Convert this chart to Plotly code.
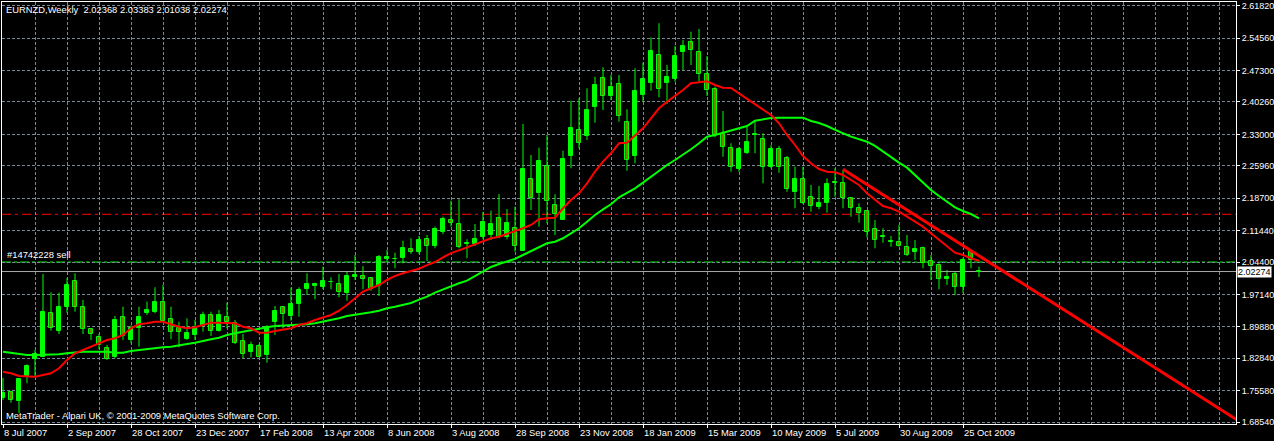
import plotly.graph_objects as go

# ---------------- data ----------------
date_labels = ["8 Jul 2007", "2 Sep 2007", "28 Oct 2007", "23 Dec 2007", "17 Feb 2008",
               "13 Apr 2008", "8 Jun 2008", "3 Aug 2008", "28 Sep 2008", "23 Nov 2008",
               "18 Jan 2009", "15 Mar 2009", "10 May 2009", "5 Jul 2009", "30 Aug 2009",
               "25 Oct 2009"]
label_step = 8      # one date label every 8 weekly bars
grid_step = 4       # vertical grid every 4 bars

price_ticks = [2.6182, 2.5456, 2.4730, 2.4026, 2.3300, 2.2596, 2.1870, 2.1144,
               2.0440, 1.9714, 1.8988, 1.8284, 1.7558, 1.6854]

opens = [1.7400, 1.7522, 1.7328, 1.7888, 1.8262, 1.8320, 1.9292, 1.8903, 1.9440, 2.0022,
         1.9440, 1.8934, 1.8768, 1.8508, 1.8320, 1.9216, 1.8694, 1.8956, 1.9306, 1.9328,
         1.9538, 1.9164, 1.8956, 1.8716, 1.8806, 1.9008, 1.9254, 1.8903, 1.9202, 1.9068,
         1.8678, 1.8432, 1.8560, 1.8358, 1.9104, 1.9426, 1.9238, 1.9500, 1.9836, 1.9910,
         1.9888, 1.9993, 1.9942, 1.9754, 2.0112, 2.0128, 2.0076, 1.9904, 2.0508, 2.0497,
         2.0538, 2.0726, 2.0672, 2.0950, 2.0800, 2.1120, 2.1375, 2.1292, 2.0838, 2.0838,
         2.1008, 2.1046, 2.1420, 2.0994, 2.1196, 2.0694, 2.2300, 2.1994, 2.2592, 2.1718,
         2.1382, 2.2822, 2.3398, 2.3270, 2.3906, 2.4556, 2.4166, 2.4422, 2.3570, 2.2822,
         2.4182, 2.4458, 2.5078, 2.4458, 2.4540, 2.5138, 2.5362, 2.5138, 2.4652, 2.4316,
         2.3302, 2.2988, 2.2518, 2.2890, 2.3286, 2.3190, 2.2576, 2.2966, 2.2764, 2.2016,
         2.2294, 2.1904, 2.1680, 2.1770, 2.2204, 2.2204, 2.1868, 2.1644, 2.1590, 2.1174,
         2.0994, 2.0883, 2.0896, 2.0770, 2.0672, 2.0748, 2.0470, 2.0374, 2.0054, 2.0172,
         1.9888, 2.0658, 2.02368]
highs = [1.7843, 1.7552, 1.7830, 1.8150, 1.8470, 2.0172, 1.9763, 1.9754, 2.0077, 2.0188,
         1.9590, 1.8940, 1.8828, 1.8582, 1.9232, 1.9440, 1.9023, 1.9440, 1.9552, 1.9874,
         1.9926, 1.9440, 1.9104, 1.9180, 1.9142, 1.9328, 1.9328, 1.9366, 1.9530, 1.9142,
         1.8828, 1.8656, 1.8604, 1.9030, 1.9456, 1.9456, 1.9866, 1.9874, 2.0188, 1.9977,
         2.0336, 2.0098, 2.0172, 2.0224, 2.0598, 2.0352, 2.0098, 2.0598, 2.0710, 2.0650,
         2.0918, 2.0972, 2.1024, 2.1046, 2.1232, 2.1456, 2.1814, 2.1846, 2.0950, 2.1292,
         2.1568, 2.1590, 2.1964, 2.1628, 2.1680, 2.3532, 2.2838, 2.3002, 2.3286, 2.1958,
         2.2934, 2.4054, 2.4108, 2.4332, 2.4592, 2.4802, 2.4630, 2.4630, 2.3862, 2.4780,
         2.4906, 2.5474, 2.5788, 2.4854, 2.5280, 2.5414, 2.5600, 2.5660, 2.5056, 2.4368,
         2.3824, 2.3100, 2.3024, 2.3472, 2.3584, 2.3324, 2.3056, 2.3040, 2.2816, 2.2576,
         2.2576, 2.2166, 2.2144, 2.2316, 2.2540, 2.2502, 2.1890, 2.1756, 2.1606, 2.1382,
         2.1197, 2.1024, 2.1270, 2.1046, 2.0934, 2.0784, 2.0598, 2.0412, 2.0262, 2.0224,
         2.0531, 2.0710, 2.03383]
lows = [1.7350, 1.7290, 1.7059, 1.7724, 1.7872, 1.8313, 1.8903, 1.8828, 1.9306, 1.9328,
        1.8828, 1.8694, 1.8486, 1.8246, 1.8284, 1.8694, 1.8620, 1.8544, 1.9254, 1.9292,
        1.9104, 1.8710, 1.8530, 1.8694, 1.8694, 1.8880, 1.8784, 1.8880, 1.8956, 1.8604,
        1.8284, 1.8306, 1.8306, 1.8186, 1.8806, 1.8956, 1.9126, 1.9216, 1.9702, 1.9606,
        1.9830, 1.9830, 1.9650, 1.9574, 2.0038, 1.9830, 1.9798, 1.9680, 2.0448, 2.0300,
        2.0412, 2.0620, 2.0620, 2.0464, 2.0748, 2.1068, 2.1232, 2.0748, 2.0524, 2.0800,
        2.0950, 2.0934, 2.0972, 2.0950, 2.0672, 2.0694, 2.1606, 2.1232, 2.1308, 2.1046,
        2.1382, 2.2540, 2.2988, 2.3174, 2.3562, 2.3846, 2.4070, 2.3584, 2.2486, 2.2652,
        2.4032, 2.4278, 2.4130, 2.3980, 2.4480, 2.4742, 2.4854, 2.4480, 2.4160, 2.3234,
        2.2800, 2.2464, 2.2464, 2.2860, 2.2876, 2.2204, 2.2540, 2.2442, 2.2016, 2.1644,
        2.1740, 2.1568, 2.1622, 2.1546, 2.1904, 2.1644, 2.1456, 2.1322, 2.0994, 2.0748,
        2.0874, 2.0784, 2.0784, 2.0576, 2.0486, 2.0300, 2.0038, 1.9830, 1.9926, 1.9702,
        1.9754, 2.0300, 2.01038]
closes = [1.7510, 1.7343, 1.7821, 1.8112, 1.8374, 1.9315, 1.8956, 1.9426, 1.9926, 1.9440,
          1.8934, 1.8828, 1.8582, 1.8262, 1.9142, 1.8784, 1.8956, 1.9202, 1.9366, 1.9538,
          1.9126, 1.8880, 1.8880, 1.8844, 1.8956, 1.9254, 1.8896, 1.9254, 1.9104, 1.8620,
          1.8380, 1.8582, 1.8320, 1.8992, 1.9344, 1.9270, 1.9500, 1.9814, 1.9948, 1.9948,
          2.0016, 2.0000, 1.9776, 2.0128, 2.0150, 2.0067, 1.9830, 2.0547, 2.0553, 2.0508,
          2.0748, 2.0672, 2.0934, 2.0806, 2.1174, 2.1404, 2.1308, 2.0784, 2.0874, 2.0950,
          2.1330, 2.1292, 2.1008, 2.1322, 2.0806, 2.2524, 2.1882, 2.2704, 2.1814, 2.1516,
          2.2742, 2.3436, 2.3100, 2.3846, 2.4406, 2.4166, 2.4354, 2.3718, 2.2726, 2.4272,
          2.4534, 2.5168, 2.4310, 2.4578, 2.5056, 2.5280, 2.5190, 2.4652, 2.4294, 2.3286,
          2.3010, 2.2576, 2.2966, 2.3123, 2.3302, 2.2562, 2.2982, 2.2562, 2.2076, 2.2294,
          2.1770, 2.1696, 2.1756, 2.2182, 2.2227, 2.1868, 2.1644, 2.1532, 2.1107, 2.0934,
          2.1024, 2.0912, 2.0800, 2.0598, 2.0732, 2.0412, 2.0352, 2.0054, 2.0112, 1.9874,
          2.0486, 2.0486, 2.02274]

ma_red = [1.7984, 1.7948, 1.7888, 1.7872, 1.7872, 1.7910, 1.7948, 1.8060, 1.8246, 1.8396,
          1.8470, 1.8544, 1.8620, 1.8694, 1.8732, 1.8806, 1.8956, 1.9046, 1.9068, 1.9104,
          1.9104, 1.9046, 1.8992, 1.8956, 1.8980, 1.9030, 1.9082, 1.9082, 1.9082, 1.9068,
          1.8992, 1.8956, 1.8858, 1.8858, 1.8896, 1.8918, 1.8956, 1.9030, 1.9068, 1.9142,
          1.9202, 1.9254, 1.9350, 1.9478, 1.9628, 1.9776, 1.9852, 1.9926, 2.0038, 2.0128,
          2.0190, 2.0240, 2.0290, 2.0370, 2.0440, 2.0545, 2.0640, 2.0700, 2.0766, 2.0840,
          2.0900, 2.0972, 2.1008, 2.1068, 2.1120, 2.1196, 2.1270, 2.1398, 2.1420, 2.1434,
          2.1644, 2.1830, 2.1980, 2.2204, 2.2464, 2.2690, 2.2876, 2.3100, 2.3114, 2.3286,
          2.3436, 2.3660, 2.3884, 2.4032, 2.4160, 2.4294, 2.4444, 2.4473, 2.4489, 2.4406,
          2.4346, 2.4339, 2.4220, 2.4108, 2.3980, 2.3862, 2.3734, 2.3548, 2.3286, 2.3062,
          2.2816, 2.2652, 2.2524, 2.2464, 2.2450, 2.2390, 2.2278, 2.2166, 2.1980, 2.1830,
          2.1696, 2.1644, 2.1568, 2.1456, 2.1344, 2.1232, 2.1084, 2.0934, 2.0784, 2.0650,
          2.0598, 2.0524, 2.0470]
ma_green = [1.8432, 1.8410, 1.8374, 1.8358, 1.8358, 1.8358, 1.8358, 1.8374, 1.8396, 1.8418,
            1.8432, 1.8432, 1.8432, 1.8432, 1.8410, 1.8410, 1.8448, 1.8470, 1.8492, 1.8521,
            1.8530, 1.8544, 1.8566, 1.8604, 1.8634, 1.8678, 1.8710, 1.8746, 1.8806, 1.8844,
            1.8880, 1.8918, 1.8956, 1.8979, 1.9008, 1.9014, 1.9030, 1.9030, 1.9046, 1.9068,
            1.9104, 1.9142, 1.9180, 1.9232, 1.9254, 1.9292, 1.9315, 1.9350, 1.9404, 1.9440,
            1.9490, 1.9523, 1.9597, 1.9664, 1.9754, 1.9830, 1.9904, 1.9964, 2.0022, 2.0128,
            2.0233, 2.0329, 2.0396, 2.0457, 2.0510, 2.0598, 2.0688, 2.0784, 2.0860, 2.0896,
            2.0972, 2.1084, 2.1196, 2.1344, 2.1494, 2.1620, 2.1734, 2.1890, 2.1994, 2.2092,
            2.2218, 2.2352, 2.2486, 2.2614, 2.2726, 2.2838, 2.2966, 2.3100, 2.3248, 2.3286,
            2.3338, 2.3391, 2.3436, 2.3488, 2.3607, 2.3638, 2.3667, 2.3674, 2.3674, 2.3674,
            2.3674, 2.3600, 2.3555, 2.3488, 2.3398, 2.3324, 2.3248, 2.3190, 2.3136, 2.3040,
            2.2912, 2.2786, 2.2666, 2.2554, 2.2390, 2.2204, 2.2054, 2.1920, 2.1792, 2.1666,
            2.1584, 2.1516, 2.1420]

trend_bars = [105, 160]          # trend line anchors (bar index)
trend_prices = [2.2518, 1.6248]

stop_level = 2.1510              # red dash-dot level
order_level = 2.0440             # "#14742228 sell" order level
bid_price = 2.02274              # current price line
order_label = "#14742228 sell"
title_text = "EURNZD,Weekly  2.02368 2.03383 2.01038 2.02274"
credit_text = "MetaTrader - Alpari UK, \u00a9 2001-2009 MetaQuotes Software Corp."

x_range = [-0.125, 154.125]
y_range = [1.6812, 2.6265]

# ---------------- figure ----------------
LIME = "#00FF00"
RED = "#FF0000"
GRID = "#778899"
FONT = "Liberation Sans, Arial, sans-serif"
FS = 9.4
FSY = 9.0

n = len(opens)
bars = list(range(n))

wx, wy = [], []
for i in bars:
    wx += [i, i, None]
    wy += [lows[i], highs[i], None]

fig = go.Figure()

fig.add_trace(go.Scatter(x=wx, y=wy, mode="lines",
                         line=dict(color=LIME, width=1), hoverinfo="skip",
                         showlegend=False))

body_base = [min(o, c) for o, c in zip(opens, closes)]
body_h = [abs(c - o) for o, c in zip(opens, closes)]
body_col = [LIME if c >= o else RED for o, c in zip(opens, closes)]
fig.add_trace(go.Bar(x=bars, y=body_h, base=body_base, width=0.5,
                     marker=dict(color=body_col, line=dict(color=LIME, width=1)),
                     showlegend=False, hoverinfo="skip"))

fig.add_trace(go.Scatter(x=bars, y=ma_green, mode="lines",
                         line=dict(color=LIME, width=2), showlegend=False, hoverinfo="skip"))
fig.add_trace(go.Scatter(x=bars, y=ma_red, mode="lines",
                         line=dict(color=RED, width=2), showlegend=False, hoverinfo="skip"))
fig.add_trace(go.Scatter(x=trend_bars, y=trend_prices, mode="lines",
                         line=dict(color=RED, width=3), showlegend=False, hoverinfo="skip"))

fig.add_hline(y=bid_price, line=dict(color="#A8A8A8", width=1), layer="below")
fig.add_hline(y=order_level, line=dict(color=LIME, width=1, dash="9px,3px,3px,3px"), layer="below")
fig.add_hline(y=stop_level, line=dict(color=RED, width=1, dash="9px,4px,3px,4px"), layer="below")

tickvals_x = [i * label_step for i in range(len(date_labels))]

fig.update_layout(
    width=1274, height=441,
    margin=dict(l=2, r=38, t=2, b=17, autoexpand=False),
    paper_bgcolor="black", plot_bgcolor="black",
    barmode="overlay", bargap=0,
    font=dict(family=FONT, size=FS, color="white"),
    showlegend=False,
)
fig.update_xaxes(
    range=x_range, tickvals=tickvals_x, ticktext=date_labels, automargin=False,
    ticks="outside", ticklen=3, tickcolor="white", ticklabelposition="outside right",
    ticklabelstandoff=0,
    showgrid=True, gridcolor=GRID, griddash="3px,2px", gridwidth=1,
    minor=dict(dtick=grid_step, tick0=0, showgrid=True, gridcolor=GRID,
               griddash="3px,2px", gridwidth=1, ticks=""),
    showline=True, linecolor="white", linewidth=1, mirror=True,
    zeroline=False, tickfont=dict(color="white", size=FS),
)
fig.update_yaxes(
    range=y_range, side="right", tickvals=price_ticks, automargin=False,
    ticktext=[f"{v:.5f}" for v in price_ticks],
    ticks="outside", ticklen=3, tickcolor="white", ticklabelstandoff=0,
    showgrid=True, gridcolor=GRID, griddash="3px,2px", gridwidth=1,
    showline=True, linecolor="white", linewidth=1, mirror=True,
    zeroline=False, tickfont=dict(color="white", size=FSY),
)

fig.add_annotation(xref="paper", yref="paper", x=0, y=1, xanchor="left", yanchor="top",
                   xshift=2, yshift=0, text=title_text, showarrow=False,
                   font=dict(color="white", size=FS, family=FONT))
fig.add_annotation(xref="paper", yref="y", x=0, y=order_level, xanchor="left", yanchor="bottom",
                   xshift=3, yshift=0, text=order_label, showarrow=False,
                   font=dict(color="white", size=FS, family=FONT))
fig.add_annotation(xref="paper", yref="paper", x=0, y=0, xanchor="left", yanchor="bottom",
                   xshift=2, yshift=1, text=credit_text, showarrow=False,
                   font=dict(color="white", size=FS, family=FONT))
fig.add_annotation(xref="paper", yref="y", x=1, y=bid_price, xanchor="left", yanchor="middle",
                   xshift=1, text="2.02274", showarrow=False, bgcolor="white", borderpad=0,
                   font=dict(color="black", size=FSY, family=FONT))

fig.write_html("out.html", config={"displayModeBar": False},
               post_script="document.body.style.margin='0px';document.body.style.background='black';")
